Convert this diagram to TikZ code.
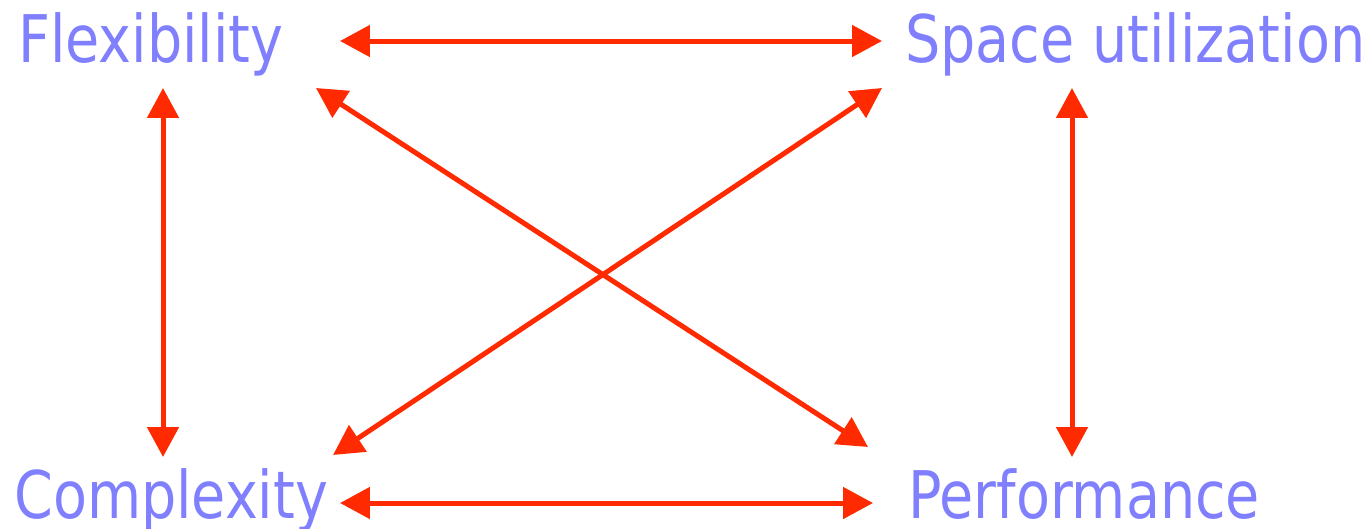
\documentclass[tikz,border=0pt]{standalone}
\usepackage{fontspec}
\usepackage{tikz}
\usetikzlibrary{arrows.meta}
\newfontfamily\lblfont[FakeStretch=0.94]{DejaVu Sans Condensed}
\definecolor{LabelBlue}{HTML}{8080FF}
\definecolor{LinkRed}{HTML}{FF2A00}

\begin{document}
\begin{tikzpicture}[x=0.02cm, y=-0.02cm,
    label/.style={anchor=base west, inner sep=0pt, text=LabelBlue,
      font=\lblfont\fontsize{37.4pt}{40pt}\selectfont},
    link/.style={LinkRed, line width=0.1cm,
      {Triangle[length=0.6cm, width=0.62cm]}-{Triangle[length=0.6cm, width=0.62cm]}}]
  \useasboundingbox (0,0) rectangle (1366,528);
  % the four properties, one in each corner
  \node[label] (flex) at (18,62) {Flexibility};
  \node[label] (space) at (905,62) {Space utilization};
  \node[label] (comp) at (14,518) {Complexity};
  \node[label] (perf) at (908,518) {Performance};
  % trade-offs along the sides
  \draw[link] ([shift={(322,-21)}]flex.base west) -- ([shift={(-23,-21)}]space.base west);
  \draw[link] ([shift={(326,-15)}]comp.base west) -- ([shift={(-35,-15)}]perf.base west);
  \draw[link] ([shift={(145,26)}]flex.base west) -- ([shift={(149,-61)}]comp.base west);
  \draw[link] ([shift={(167,26)}]space.base west) -- ([shift={(164,-61)}]perf.base west);
  % trade-offs across the diagonals
  \draw[link] ([shift={(298,26)}]flex.base west) -- ([shift={(-40,-71)}]perf.base west);
  \draw[link] ([shift={(-23,26)}]space.base west) -- ([shift={(319,-63)}]comp.base west);
\end{tikzpicture}
\end{document}
